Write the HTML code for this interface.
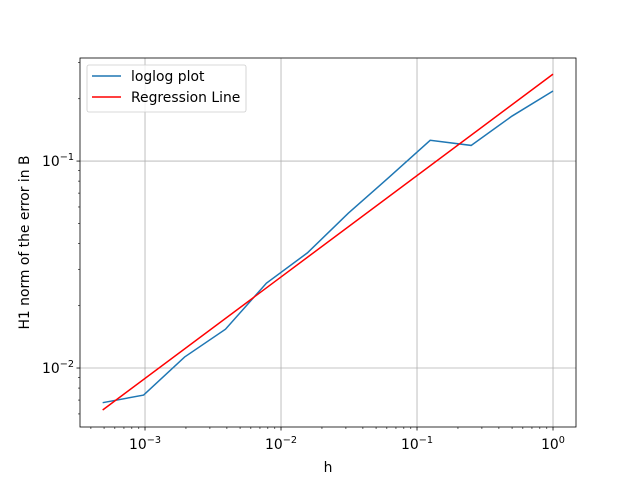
<!DOCTYPE html>
<html><head><meta charset="utf-8"><style>
body{margin:0;background:#fff}
text{font-family:"DejaVu Sans","Liberation Sans",sans-serif;font-size:13.9px;fill:#000}
</style></head><body>
<svg id="chart" width="640" height="480" xmlns="http://www.w3.org/2000/svg">
<rect width="640" height="480" fill="#fff"/>
<g id="grid"></g><g id="series"></g><g id="axes"></g>
</svg>
<script>
const hValues=[1,0.5,0.25,0.125,0.0625,0.03125,0.015625,0.0078125,0.00390625,0.001953125,0.0009765625,0.00048828125];
const errorValues=[0.218,0.165,0.119,0.126,0.0837,0.056,0.036,0.0257,0.0154,0.0113,0.0074,0.0068];
const regH=[1,0.00048828125];
const regValues=[0.263,0.00627];
const xTickExps=[-3,-2,-1,0];
const yTickExps=[-2,-1];

const L=80,R=576,T=58,B=427;
const xMin=-3.478,xMax=0.169,yMin=-2.285,yMax=-0.502;
const X=v=>L+(Math.log10(v)-xMin)/(xMax-xMin)*(R-L);
const Y=v=>B-(Math.log10(v)-yMin)/(yMax-yMin)*(B-T);
const NS="http://www.w3.org/2000/svg";
function mk(tag,attrs,parent,txt){const e=document.createElementNS(NS,tag);for(const k in attrs)e.setAttribute(k,attrs[k]);if(txt!==undefined)e.textContent=txt;parent.appendChild(e);return e;}
const grid=document.getElementById('grid'),axes=document.getElementById('axes'),series=document.getElementById('series');

xTickExps.forEach(e=>{const x=X(Math.pow(10,e));
 const g=mk('line',{x1:x,x2:x,y1:T,y2:B,stroke:'#b0b0b0','stroke-width':0.8},grid);
 
 mk('line',{x1:x,x2:x,y1:B,y2:B+3.5,stroke:'#000','stroke-width':0.8},axes);
 const t=mk('text',{x:x,y:B+22,'text-anchor':'middle'},axes,'10');
 mk('tspan',{dy:-6,'font-size':'9.7px'},t,e===0?'0':'−'+(-e));
 
});
for(let e=-4;e<=0;e++)for(let m=2;m<=9;m++){const v=m*Math.pow(10,e);const x=X(v);if(x<L||x>R)continue;
 mk('line',{x1:x,x2:x,y1:B,y2:B+2,stroke:'#000','stroke-width':0.6},axes);}
yTickExps.forEach(e=>{const y=Y(Math.pow(10,e));
 const g=mk('line',{x1:L,x2:R,y1:y,y2:y,stroke:'#b0b0b0','stroke-width':0.8},grid);
 
 mk('line',{x1:L-3.5,x2:L,y1:y,y2:y,stroke:'#000','stroke-width':0.8},axes);
 const t=mk('text',{x:L-6,y:y+5,'text-anchor':'end'},axes,'10');
 mk('tspan',{dy:-6,'font-size':'9.7px'},t,'−'+(-e));
 
});
for(let e=-3;e<=0;e++)for(let m=2;m<=9;m++){const v=m*Math.pow(10,e);const y=Y(v);if(y<T||y>B)continue;
 mk('line',{x1:L-2,x2:L,y1:y,y2:y,stroke:'#000','stroke-width':0.6},axes);}

const p1=mk('polyline',{points:hValues.map((h,i)=>X(h)+','+Y(errorValues[i])).join(' '),fill:'none',stroke:'#1f77b4','stroke-width':1.5},series);

const p2=mk('polyline',{points:regH.map((h,i)=>X(h)+','+Y(regValues[i])).join(' '),fill:'none',stroke:'red','stroke-width':1.5},series);


const fr=mk('rect',{x:L,y:T,width:R-L,height:B-T,fill:'none',stroke:'#000','stroke-width':0.8},axes);

const xl=mk('text',{x:(L+R)/2,y:472,'text-anchor':'middle'},axes,'h');

const yl=mk('text',{x:29,y:(T+B)/2,'text-anchor':'middle',transform:`rotate(-90 29 ${(T+B)/2})`},axes,'H1 norm of the error in B');


const lg=mk('g',{},axes);
mk('rect',{x:87,y:65,width:159,height:47,rx:2,fill:'#fff','fill-opacity':0.8,stroke:'#ccc','stroke-width':0.8},lg);
const e1=mk('g',{},lg);
mk('line',{x1:92,x2:121,y1:76,y2:76,stroke:'#1f77b4','stroke-width':1.5},e1);
mk('text',{x:131,y:81},e1,'loglog plot');
const e2=mk('g',{},lg);
mk('line',{x1:92,x2:121,y1:97,y2:97,stroke:'red','stroke-width':1.5},e2);
mk('text',{x:131,y:102},e2,'Regression Line');
</script>
</body></html>
